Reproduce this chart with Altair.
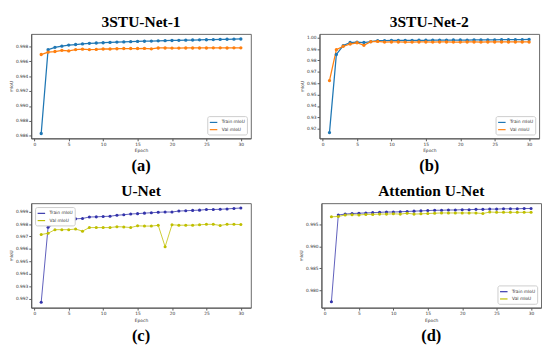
import altair as alt
import pandas as pd

epochs = list(range(1, 31))

a_train = [0.98632, 0.99752, 0.99784, 0.99800, 0.99814, 0.99822, 0.99830, 0.99838, 0.99842, 0.99846,
           0.99850, 0.99854, 0.99857, 0.99860, 0.99863, 0.99866, 0.99868, 0.99871, 0.99873, 0.99876,
           0.99878, 0.99880, 0.99882, 0.99884, 0.99886, 0.99888, 0.99890, 0.99892, 0.99894, 0.99896]
a_val = [0.99688, 0.99720, 0.99728, 0.99744, 0.99736, 0.99754, 0.99760, 0.99754, 0.99756, 0.99762,
         0.99762, 0.99766, 0.99768, 0.99768, 0.99768, 0.99770, 0.99764, 0.99776, 0.99776, 0.99774,
         0.99774, 0.99776, 0.99776, 0.99776, 0.99776, 0.99778, 0.99778, 0.99776, 0.99778, 0.99778]

b_train = [0.9166, 0.9853, 0.9931, 0.9958, 0.9961, 0.9958, 0.9966, 0.9974, 0.9975, 0.9976,
           0.9976, 0.9976, 0.9977, 0.9978, 0.9978, 0.9979, 0.9979, 0.9979, 0.9980, 0.9980,
           0.9979, 0.9981, 0.9981, 0.9982, 0.9982, 0.9983, 0.9983, 0.9983, 0.9984, 0.9985]
b_val = [0.9623, 0.9895, 0.9925, 0.9945, 0.9956, 0.9933, 0.9965, 0.9968, 0.9962, 0.9963,
         0.9963, 0.9962, 0.9962, 0.9963, 0.9963, 0.9962, 0.9963, 0.9963, 0.9962, 0.9962,
         0.9963, 0.9963, 0.9962, 0.9963, 0.9963, 0.9963, 0.9963, 0.9963, 0.9963, 0.9963]

c_train = [0.99171, 0.99774, 0.99803, 0.99823, 0.99835, 0.99842, 0.99845, 0.99857, 0.99858, 0.99861,
           0.99863, 0.99871, 0.99875, 0.99881, 0.99884, 0.99888, 0.99891, 0.99895, 0.99897, 0.99897,
           0.99905, 0.99907, 0.99910, 0.99912, 0.99917, 0.99917, 0.99919, 0.99922, 0.99926, 0.99929]
c_val = [0.99716, 0.99726, 0.99755, 0.99755, 0.99755, 0.99760, 0.99743, 0.99772, 0.99772, 0.99772,
         0.99772, 0.99779, 0.99777, 0.99772, 0.99786, 0.99784, 0.99784, 0.99790, 0.99618, 0.99794,
         0.99791, 0.99791, 0.99791, 0.99794, 0.99798, 0.99798, 0.99789, 0.99798, 0.99798, 0.99796]

d_train = [0.97746, 0.99708, 0.99728, 0.99741, 0.99748, 0.99754, 0.99761, 0.99768, 0.99775, 0.99775,
           0.99781, 0.99788, 0.99795, 0.99801, 0.99808, 0.99815, 0.99815, 0.99821, 0.99821, 0.99828,
           0.99828, 0.99835, 0.99835, 0.99841, 0.99841, 0.99848, 0.99848, 0.99848, 0.99855, 0.99855]
d_val = [0.99667, 0.99674, 0.99708, 0.99714, 0.99708, 0.99721, 0.99721, 0.99728, 0.99728, 0.99734,
         0.99728, 0.99748, 0.99728, 0.99734, 0.99741, 0.99748, 0.99754, 0.99754, 0.99754, 0.99754,
         0.99754, 0.99754, 0.99741, 0.99775, 0.99768, 0.99768, 0.99768, 0.99768, 0.99768, 0.99768]

series_names = ["Train mIoU", "Val mIoU"]
x_ticks = [0, 5, 10, 15, 20, 25, 30]

W = 227
H = 108


def panel(title, tag, train, val, colors, ydom, yticks, yfmt, lorient, lw, msize):
    df = pd.DataFrame({
        "Epoch": epochs + epochs,
        "mIoU": train + val,
        "series": [series_names[0]] * len(train) + [series_names[1]] * len(val),
    })
    line = alt.Chart(df).mark_line(
        strokeWidth=lw,
        point=alt.OverlayMarkDef(filled=True, size=msize, opacity=1),
    ).encode(
        x=alt.X("Epoch:Q", scale=alt.Scale(domain=[-0.45, 31.45], nice=False, zero=False),
                axis=alt.Axis(values=x_ticks, title="Epoch")),
        y=alt.Y("mIoU:Q", scale=alt.Scale(domain=ydom, nice=False, zero=False),
                axis=alt.Axis(values=yticks, format=yfmt, title="mIoU")),
        color=alt.Color("series:N",
                        scale=alt.Scale(domain=series_names, range=colors),
                        legend=alt.Legend(title=None, orient=lorient, offset=4,
                                          fillColor="white", strokeColor="#cccccc",
                                          padding=2, rowPadding=0.5, cornerRadius=2,
                                          labelFontSize=4.5, labelFont="DejaVu Sans",
                                          labelColor="#333333",
                                          symbolType="stroke", symbolSize=60,
                                          symbolStrokeWidth=1.2)),
    )
    tagdf = pd.DataFrame({"t": [tag]})
    tagm = alt.Chart(tagdf).mark_text(
        font="Liberation Serif", fontSize=17, fontWeight="bold", baseline="middle", color="black"
    ).encode(x=alt.value(W / 2), y=alt.value(H + 29), text="t:N")
    return alt.layer(line, tagm).properties(
        width=W, height=H,
        title=alt.TitleParams(title, font="Liberation Serif", fontSize=16, fontWeight="bold",
                              offset=4, anchor="middle", color="black"),
    ).resolve_scale(color="independent")


pa = panel("3STU-Net-1", "(a)", a_train, a_val, ["#1f77b4", "#ff7f0e"], [0.98567, 0.99964],
           [0.986, 0.988, 0.990, 0.992, 0.994, 0.996, 0.998], ".3f", "bottom-right", 1.3, 12)
pb = panel("3STU-Net-2", "(b)", b_train, b_val, ["#1f77b4", "#ff7f0e"], [0.9115, 1.0034],
           [0.92, 0.93, 0.94, 0.95, 0.96, 0.97, 0.98, 0.99, 1.00], ".2f", "bottom-right", 1.3, 12)
pc = panel("U-Net", "(c)", c_train, c_val, ["#3333aa", "#bfbf00"], [0.99128, 0.99968],
           [0.992, 0.993, 0.994, 0.995, 0.996, 0.997, 0.998, 0.999], ".3f", "top-left", 0.8, 10)
pd_ = panel("Attention U-Net", "(d)", d_train, d_val, ["#3333aa", "#bfbf00"], [0.97612, 0.99975],
            [0.980, 0.985, 0.990, 0.995], ".3f", "bottom-right", 0.8, 10)

row1 = alt.hconcat(pa, pb, spacing=48).resolve_scale(color="independent", x="independent", y="independent")
row2 = alt.hconcat(pc, pd_, spacing=48).resolve_scale(color="independent", x="independent", y="independent")

chart = alt.vconcat(row1, row2, spacing=8).resolve_scale(
    color="independent", x="independent", y="independent"
).properties(
    padding={"left": 0, "top": 0, "right": 0, "bottom": 0},
    background="white",
).configure_axis(
    labelFontSize=4.5, titleFontSize=4.5, titleFontWeight="normal",
    labelFont="DejaVu Sans", titleFont="DejaVu Sans",
    tickSize=2.5, labelPadding=1, titlePadding=2,
    domainColor="#555555", tickColor="#555555", labelColor="#333333", titleColor="#333333",
    grid=False,
).configure_view(stroke="#666666", strokeWidth=1)

chart.save("out.html", embed_options={"renderer": "svg", "actions": False})
